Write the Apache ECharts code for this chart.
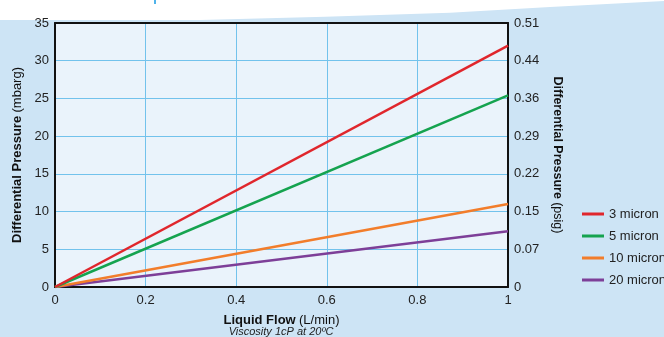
<!DOCTYPE html>
<html><head><meta charset="utf-8">
<script src="https://cdn.jsdelivr.net/npm/echarts@6/dist/echarts.min.js"></script>
<style>html,body{margin:0;padding:0;background:#fff}#c{width:664px;height:337px}</style>
</head><body><div id="c"></div>
<script>
const flow = [0, 1];
const seriesNames = ['3 micron', '5 micron', '10 micron', '20 micron'];
const micron3 = [0, 32];
const micron5 = [0, 25.4];
const micron10 = [0, 11.0];
const micron20 = [0, 7.4];
const xTicks = [0, 0.2, 0.4, 0.6, 0.8, 1];
const leftTicks = [0, 5, 10, 15, 20, 25, 30, 35];
const rightTickLabels = ['0', '0.07', '0.15', '0.22', '0.29', '0.36', '0.44', '0.51'];
const colors = ['#e0262c', '#15a34f', '#f27d2b', '#7d3f98'];

const values = [micron3, micron5, micron10, micron20];
const chart = echarts.init(document.getElementById('c'));
const font = 'Liberation Sans, Arial, sans-serif';
const blackLine = {show: true, onZero: false, lineStyle: {color: '#111', width: 2}};
const nameRich = {
  b: {fontWeight: 'bold', fontSize: 13, color: '#111', fontFamily: font},
  r: {fontSize: 13, color: '#111', fontFamily: font}
};
chart.setOption({
  backgroundColor: '#cde4f5',
  animation: false,
  textStyle: {fontFamily: font},
  graphic: [
    {type: 'polygon', z: -10, silent: true,
     shape: {points: [[0,0],[664,0],[664,1],[550,7],[450,12.7],[325,16.7],[200,20],[0,20]]},
     style: {fill: '#ffffff'}},
    {type: 'rect', z: -10, silent: true, shape: {x: 154, y: 0, width: 2, height: 4}, style: {fill: '#4fb3ea'}},
    {type: 'text', silent: true,
     style: {text: 'Viscosity 1cP at 20ºC', fontFamily: font, fontSize: 11, fontStyle: 'italic', fill: '#222',
             x: 281, y: 332, textAlign: 'center', textVerticalAlign: 'middle'}}
  ],
  grid: {show: true, backgroundColor: '#eaf3fb', borderWidth: 0, left: 55, right: 156, top: 23, bottom: 50},
  legend: {
    orient: 'vertical', left: 582, top: 207, itemGap: 8, padding: 0,
    itemWidth: 22, itemHeight: 3, icon: 'rect',
    textStyle: {fontSize: 13, lineHeight: 14, color: '#222', fontFamily: font},
    data: seriesNames
  },
  xAxis: [
    {type: 'value', min: 0, max: 1, interval: 0.2, position: 'bottom',
     axisLine: blackLine, axisTick: {show: false},
     axisLabel: {color: '#222', fontSize: 13, margin: 7, formatter: v => String(+v.toFixed(1))},
     splitLine: {show: true, lineStyle: {color: '#72c2ec', width: 1}},
     name: '{b|Liquid Flow} {r|(L/min)}', nameLocation: 'middle', nameGap: 27,
     nameTextStyle: {rich: nameRich}
    },
    {type: 'value', min: 0, max: 1, interval: 0.2, position: 'top',
     axisLine: blackLine, axisTick: {show: false}, axisLabel: {show: false}, splitLine: {show: false}}
  ],
  yAxis: [
    {type: 'value', min: 0, max: 35, interval: 5, position: 'left',
     axisLine: blackLine, axisTick: {show: false},
     axisLabel: {color: '#222', fontSize: 13, margin: 6},
     splitLine: {show: true, lineStyle: {color: '#72c2ec', width: 1}},
     name: '{b|Differential Pressure} {r|(mbarg)}', nameLocation: 'middle', nameGap: 30, nameRotate: 90,
     nameTextStyle: {rich: nameRich}
    },
    {type: 'value', min: 0, max: 35, interval: 5, position: 'right',
     axisLine: blackLine, axisTick: {show: false},
     axisLabel: {color: '#222', fontSize: 13, margin: 6, formatter: v => rightTickLabels[Math.round(v / 5)]},
     splitLine: {show: false},
     name: '{b|Differential Pressure} {r|(psig)}', nameLocation: 'middle', nameGap: 43, nameRotate: -90,
     nameTextStyle: {rich: {b: Object.assign({}, nameRich.b, {fontSize: 12.5}), r: Object.assign({}, nameRich.r, {fontSize: 12.5})}}
    }
  ],
  series: seriesNames.map((n, i) => ({
    name: n, type: 'line', showSymbol: false, symbol: 'none',
    lineStyle: {color: colors[i], width: 2.5}, itemStyle: {color: colors[i]},
    data: flow.map((x, j) => [x, values[i][j]]),
    z: 10 - i
  }))
});
</script></body></html>
